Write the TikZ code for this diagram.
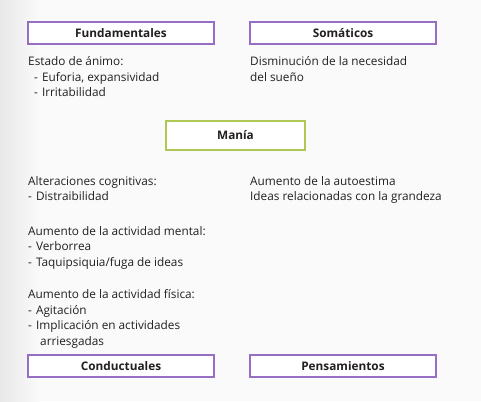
\documentclass[tikz,border=0pt]{standalone}
\usepackage{fontspec}
\setmainfont{Open Sans}
\usetikzlibrary{positioning}
\definecolor{mypurple}{RGB}{150,110,195}
\definecolor{mygreen}{RGB}{175,200,85}
\definecolor{mytext}{RGB}{35,31,32}
\definecolor{mybg}{RGB}{250,250,250}
\definecolor{myshade}{RGB}{232,232,232}
\tikzset{
  catbox/.style={rectangle, draw=mypurple, fill=white, line width=1.3pt,
    minimum width=186pt, minimum height=22pt, font=\bfseries\fontsize{11.8}{13}\selectfont,
    text=mytext, inner sep=0pt},
  mainbox/.style={catbox, draw=mygreen, minimum width=139pt, minimum height=29pt},
  % base = baseline of the last line
  desc/.style={anchor=base west, align=left, inner sep=0pt, text=mytext,
    font=\fontsize{11.8}{15.5}\selectfont}
}
\begin{document}
\begin{tikzpicture}[x=1pt, y=-1pt]
  \useasboundingbox (0,0) rectangle (481,401);
  % background with soft left shadow
  \fill[mybg] (0,0) rectangle (481,401);
  \shade[left color=myshade, right color=mybg] (0,0) rectangle (40,401);

  % category boxes
  \node[catbox] (fund) at (121,33) {Fundamentales};
  \node[catbox] (soma) at (343,33) {Somáticos};
  \node[mainbox] (mania) at (235.5,135.5) {Manía};
  \node[catbox] (cond) at (121,366) {Conductuales};
  \node[catbox] (pens) at (343,366) {Pensamientos};

  % descriptions
  \node[desc] (animo) at (28,97) {Estado de ánimo:\\
    \hspace{6pt}- \hspace{1pt}Euforia, expansividad\\
    \hspace{6pt}- \hspace{1pt}Irritabilidad};
  \node[desc] (sueno) at (250,81.5) {Disminución de la necesidad\\del sueño};
  \node[desc] (cogn) at (28,200.5) {Alteraciones cognitivas:\\
    - \hspace{1pt}Distraibilidad};
  \node[desc] (estima) at (250,200.5) {Aumento de la autoestima\\
    Ideas relacionadas con la grandeza};
  \node[desc] (mental) at (28,266) {Aumento de la actividad mental:\\
    - \hspace{1pt}Verborrea\\
    - \hspace{1pt}Taquipsiquia/fuga de ideas};
  \node[desc] (fisica) at (28,345) {Aumento de la actividad física:\\
    - \hspace{1pt}Agitación\\
    - \hspace{1pt}Implicación en actividades\\
    \hspace{12pt}arriesgadas};
\end{tikzpicture}
\end{document}
